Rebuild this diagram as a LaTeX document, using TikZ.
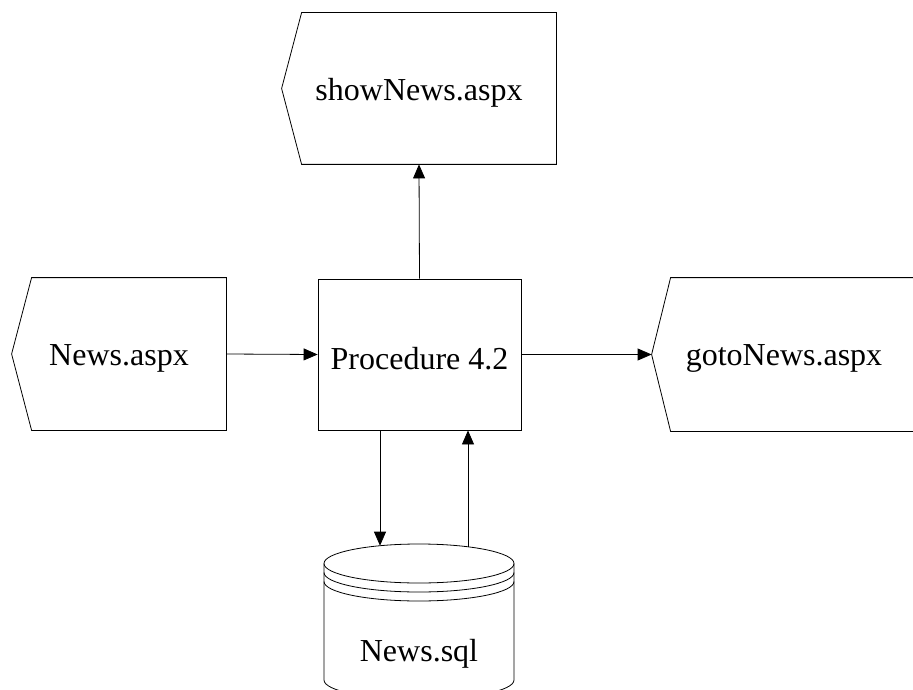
\documentclass[tikz,border=0pt]{standalone}
\usepackage{fontspec}
\setmainfont{Liberation Serif}
\usetikzlibrary{arrows.meta}
\newcommand{\dn}[1]{\raisebox{-4pt}[\height][\depth]{#1}}
\begin{document}
\begin{tikzpicture}[x={(1pt,0)},y={(0,-1pt)},
  line width=0.8pt,
  lbl/.style={font=\fontsize{32}{36}\selectfont, inner sep=0pt},
  boxnode/.style={lbl, draw, rectangle},
  frame/.style={lbl, rectangle},
  conn/.style={-{Triangle[length=14pt,width=12pt]}, line width=0.8pt}]
\useasboundingbox (0,0) rectangle (913,690);
\clip (0,0) rectangle (913,690);
% nodes
\node[frame, minimum width=274pt, minimum height=151pt] (show) at (419,88.5) {\dn{showNews.aspx}};
\node[frame, minimum width=214pt, minimum height=152pt] (news) at (119,354) {\dn{News.aspx}};
\node[frame, minimum width=264pt, minimum height=153pt] (goto) at (784,354.5) {\dn{gotoNews.aspx}};
\node[boxnode, minimum width=203pt, minimum height=151pt] (proc) at (419.5,354.5) {\dn{Procedure 4.2}};
\node[lbl] (db) at (419,654) {News.sql};
% display outlines
\draw (show.west) -- ([xshift=20pt]show.north west) -- (show.north east) -- (show.south east) -- ([xshift=20pt]show.south west) -- cycle;
\draw (news.west) -- ([xshift=20pt]news.north west) -- (news.north east) -- (news.south east) -- ([xshift=20pt]news.south west) -- cycle;
\draw (goto.west) -- ([xshift=19pt]goto.north west) -- (goto.north east) -- (goto.south east) -- ([xshift=19pt]goto.south west) -- cycle;
% cylinder
\draw (419,563.5) ellipse [x radius=95, y radius=19.5];
\draw (324,572.5) arc[start angle=180, end angle=0, x radius=95, y radius=19.5];
\draw (324,581.5) arc[start angle=180, end angle=0, x radius=95, y radius=19.5];
\draw (324,563.5) -- (324,680) arc[start angle=180, end angle=0, x radius=95, y radius=19.5] -- (514,563.5);
\coordinate (dbin) at (380,545.7);
\coordinate (dbout) at (468,546.8);
% connectors
\draw[conn] (proc.north) -- (show.south);
\draw[conn] (news.east) -- (proc.west);
\draw[conn] (proc.east) -- (goto.west);
\draw[conn] (dbin |- proc.south) -- (dbin);
\draw[conn] (dbout) -- (dbout |- proc.south);
\end{tikzpicture}
\end{document}
